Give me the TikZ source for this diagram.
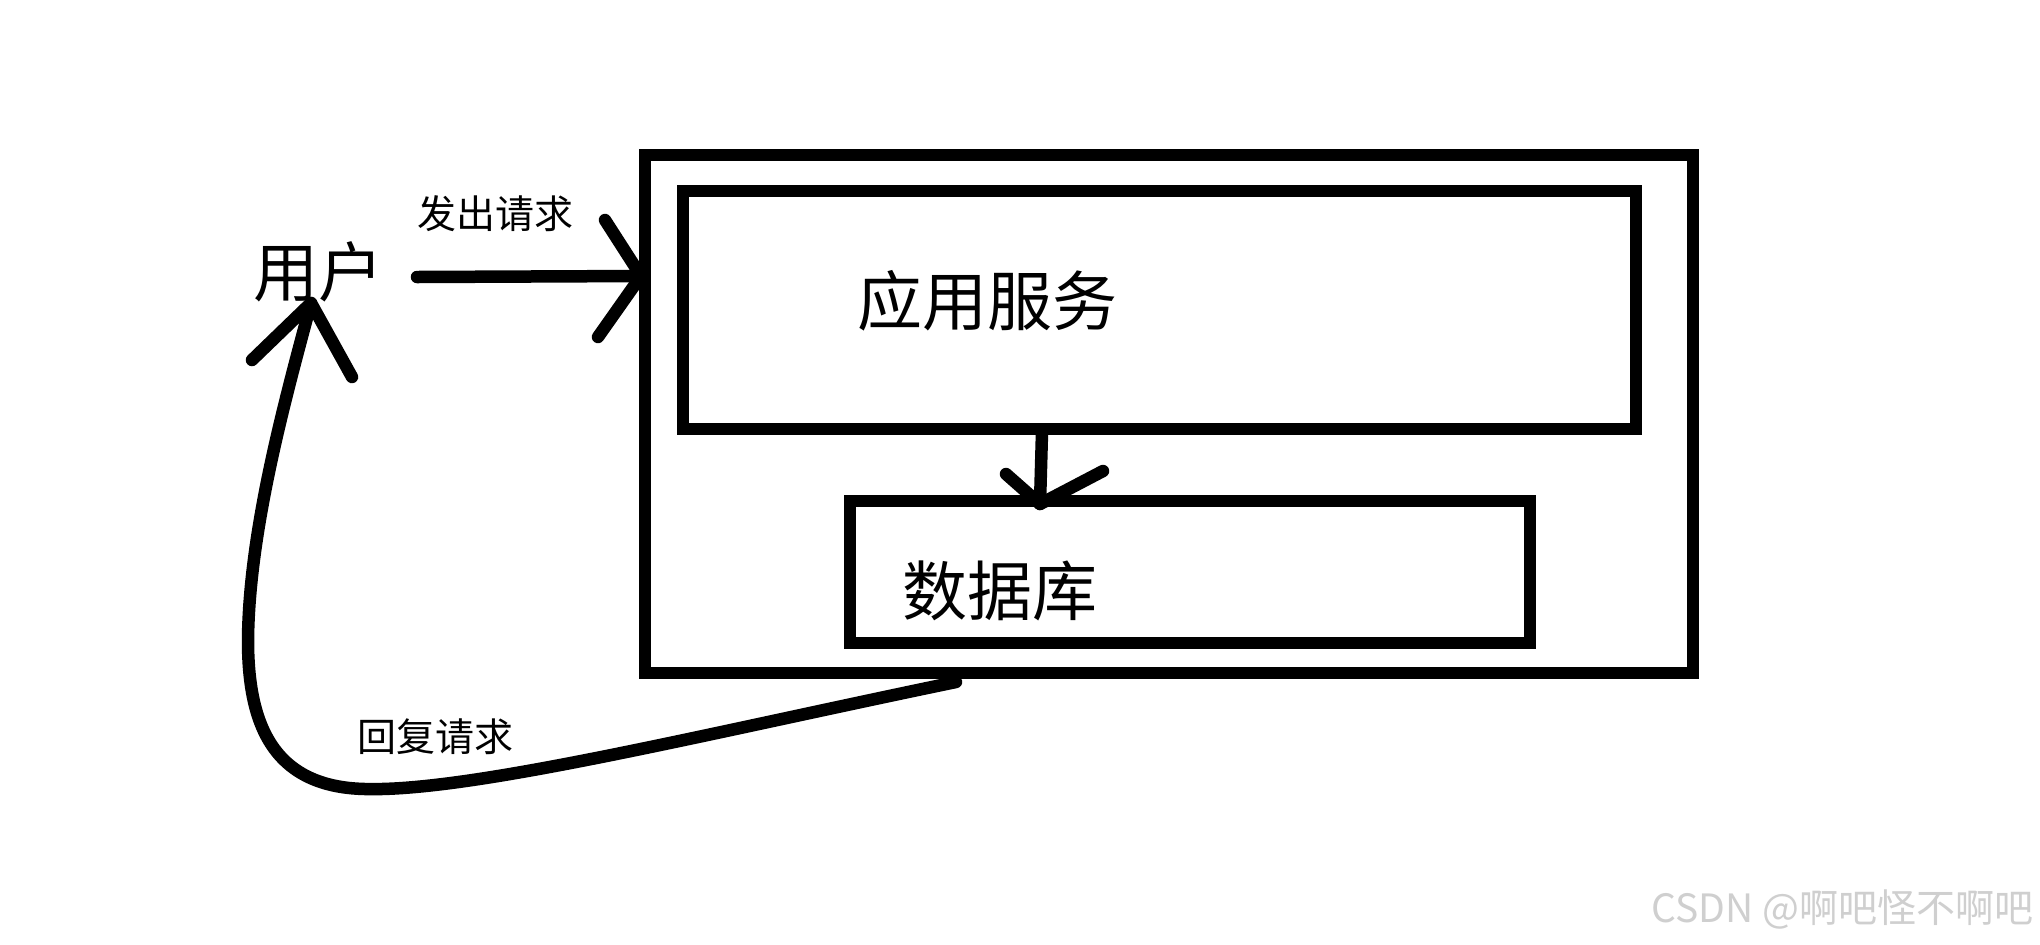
\documentclass[tikz,border=0pt]{standalone}
\usepackage{fontspec}
\setmainfont{Noto Sans CJK SC}
\definecolor{wmgray}{HTML}{CFCFCF}
\begin{document}
\begin{tikzpicture}[x=0.5pt,y=-0.5pt,
  pen/.style={line width=6.25pt, line cap=round, line join=round},
  box/.style={draw, line width=6.25pt, outer sep=0pt, inner sep=0pt},
  bigtext/.style={font=\fontsize{32.5pt}{36pt}\selectfont, inner sep=0pt},
  smalltext/.style={font=\fontsize{19.5pt}{22pt}\selectfont, inner sep=0pt}]
\useasboundingbox (0,0) rectangle (2040,944);
\fill[white] (0,0) rectangle (2040,944);

% boxes
\node[box, minimum width=524pt, minimum height=259pt] (outer) at (1169,414) {};
\node[box, minimum width=476.5pt, minimum height=119pt] (app) at (1159.5,310) {};
\node[box, minimum width=340pt, minimum height=71pt] (db) at (1190,572) {};

% texts
\node[bigtext] (user) at (318,272) {用户};
\node[bigtext] (apptxt) at (987,301) {应用服务};
\node[bigtext] (dbtxt) at (1000,591) {数据库};
\node[smalltext] (reqlbl) at (495,214) {发出请求};
\node[smalltext] (replbl) at (435,737) {回复请求};
\node[font=\fontsize{19.5pt}{22pt}\selectfont, text=wmgray, inner sep=0pt, anchor=east] (wm) at (2034,909) {CSDN @啊吧怪不啊吧};

% request arrow
\coordinate (reqs) at (417,277);
\coordinate (reqe) at (641,276);
\draw[pen] (reqs) -- (reqe);
\draw[pen] (605,220) -- (reqe) -- (598,337);

% app -> db arrow
\coordinate (ads) at (1042,432);
\coordinate (ade) at (1040,504);
\draw[pen] (ads) -- (ade);
\draw[pen] (1006,474) -- (ade) -- (1103,471);

% reply curve
\coordinate (reps) at (956,682);
\coordinate (repe) at (311,303);
\draw[pen] (reps) .. controls (700,735) and (470,792) .. (365,789)
  .. controls (270,787) and (248,720) .. (248,640)
  .. controls (249,530) and (285,400) .. (repe);
\draw[pen] (252,360) -- (repe) -- (352,377);
\end{tikzpicture}
\end{document}
